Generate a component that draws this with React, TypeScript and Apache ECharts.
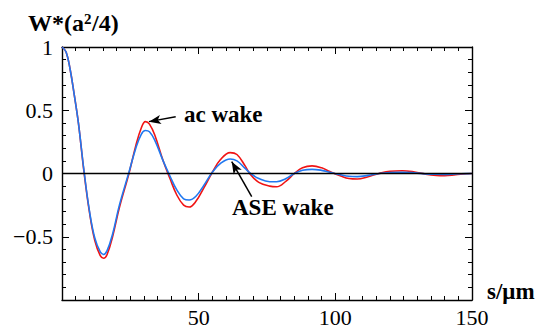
import React, { useEffect, useRef } from "react";
import * as echarts from "echarts";

const S = [0, 1.5, 3, 4.5, 6, 8, 10, 12, 14, 15.2, 16.5, 18.5, 21, 24.5, 27, 29, 30.5, 32, 34, 37, 39.5, 42, 44.5, 46.5, 49, 52, 55, 58, 61.5, 64, 67, 69, 72, 76, 78.5, 82, 85, 88, 91.5, 95, 98, 102, 105, 108, 112, 116, 120, 124.5, 129, 133, 137, 140, 144, 148, 150];
const AC = [1.0, 0.96, 0.82, 0.62, 0.40, 0.02, -0.30, -0.53, -0.65, -0.67, -0.64, -0.50, -0.27, 0.0, 0.22, 0.36, 0.41, 0.39, 0.30, 0.10, -0.04, -0.17, -0.25, -0.265, -0.22, -0.11, 0.01, 0.11, 0.165, 0.15, 0.06, -0.01, -0.07, -0.10, -0.105, -0.06, 0.0, 0.045, 0.06, 0.045, 0.015, -0.02, -0.04, -0.044, -0.025, 0.0, 0.018, 0.022, 0.012, -0.005, -0.015, -0.017, -0.01, -0.002, 0.0];
const ASE = [1.0, 0.96, 0.82, 0.62, 0.40, 0.03, -0.29, -0.51, -0.62, -0.64, -0.61, -0.48, -0.25, 0.01, 0.20, 0.31, 0.34, 0.33, 0.26, 0.10, -0.02, -0.13, -0.20, -0.21, -0.18, -0.09, 0.01, 0.08, 0.115, 0.10, 0.04, 0.0, -0.04, -0.065, -0.065, -0.04, 0.0, 0.025, 0.033, 0.025, 0.01, -0.01, -0.022, -0.025, -0.015, 0.0, 0.008, 0.01, 0.005, -0.003, -0.006, -0.007, -0.004, -0.001, 0.0];

const AC_ARROW = [[41.6, 0.449], [31.8, 0.41]];
const ASE_ARROW = [[69.4, -0.183], [62.1, 0.093]];

const SERIF = "Liberation Serif";

function txt(text: string, x: number, y: number, size: number) {
  return {
    type: "text",
    x,
    y,
    style: { text, fontSize: size, fontWeight: "bold", fontFamily: SERIF, fill: "#000" },
  };
}

export default function App() {
  const ref = useRef<HTMLDivElement>(null);
  useEffect(() => {
    if (!ref.current) return;
    const chart = echarts.init(ref.current, null, { renderer: "svg" });
    const axisCommon = {
      type: "value" as const,
      axisLine: { show: true, onZero: false, lineStyle: { color: "#000", width: 1.4 } },
      axisTick: { show: true, inside: true, length: 7, lineStyle: { color: "#000", width: 1 } },
      minorTick: { show: true, length: 4, lineStyle: { color: "#000", width: 1 } },
      splitLine: { show: false },
      minorSplitLine: { show: false },
    };
    const xBase = { ...axisCommon, min: 0, max: 150, interval: 50, minorTick: { ...axisCommon.minorTick, splitNumber: 10 } };
    const yBase = { ...axisCommon, min: -1, max: 1, interval: 0.5, minorTick: { ...axisCommon.minorTick, splitNumber: 5 } };
    chart.setOption({
      animation: false,
      grid: { left: 62, right: 66, top: 47, bottom: 30, containLabel: false, outerBoundsMode: "none" },
      xAxis: [
        {
          ...xBase,
          position: "bottom",
          axisLabel: {
            show: true,
            margin: 6,
            color: "#000",
            fontSize: 22,
            fontFamily: SERIF,
            formatter: (v: number) => (v === 0 ? "" : String(v)),
          },
        },
        { ...xBase, position: "top", axisLabel: { show: false } },
      ],
      yAxis: [
        {
          ...yBase,
          position: "left",
          axisLabel: {
            show: true,
            margin: 9,
            color: "#000",
            fontSize: 22,
            fontFamily: SERIF,
            formatter: (v: number) => (v === -1 ? "" : v < 0 ? "\u2212" + String(-v) : String(v)),
          },
        },
        { ...yBase, position: "right", axisLabel: { show: false } },
      ],
      series: [
        {
          name: "ac wake",
          type: "line",
          data: S.map((s, i) => [s, AC[i]]),
          showSymbol: false,
          smooth: 0.4,
          lineStyle: { color: "#f01414", width: 1.6 },
          z: 3,
          markLine: {
            silent: true,
            symbol: "none",
            label: { show: false },
            lineStyle: { color: "#000", width: 1.3, type: "solid" },
            data: [{ yAxis: 0 }],
          },
        },
        {
          name: "ASE wake",
          type: "line",
          data: S.map((s, i) => [s, ASE[i]]),
          showSymbol: false,
          smooth: 0.4,
          lineStyle: { color: "#2078f0", width: 1.6 },
          z: 4,
          markLine: {
            silent: true,
            symbol: ["none", "arrow"],
            symbolSize: [7, 12],
            label: { show: false },
            lineStyle: { color: "#000", width: 1.5, type: "solid" },
            data: [
              [{ coord: AC_ARROW[0] }, { coord: AC_ARROW[1] }],
              [{ coord: ASE_ARROW[0] }, { coord: ASE_ARROW[1] }],
            ],
          },
        },
      ],
      graphic: {
        elements: [
          txt("W*(a", 28, 11, 24),
          txt("2", 84, 11, 15),
          txt("/4)", 92, 11, 24),
          txt("s/\u03bcm", 487, 280, 23),
          txt("ac wake", 184, 103, 23),
          txt("ASE wake", 232, 196, 23),
        ],
      },
    });
    return () => chart.dispose();
  }, []);
  return <div ref={ref} style={{ position: "absolute", left: 0, top: 0, width: 538, height: 330, background: "#fff" }} />;
}
